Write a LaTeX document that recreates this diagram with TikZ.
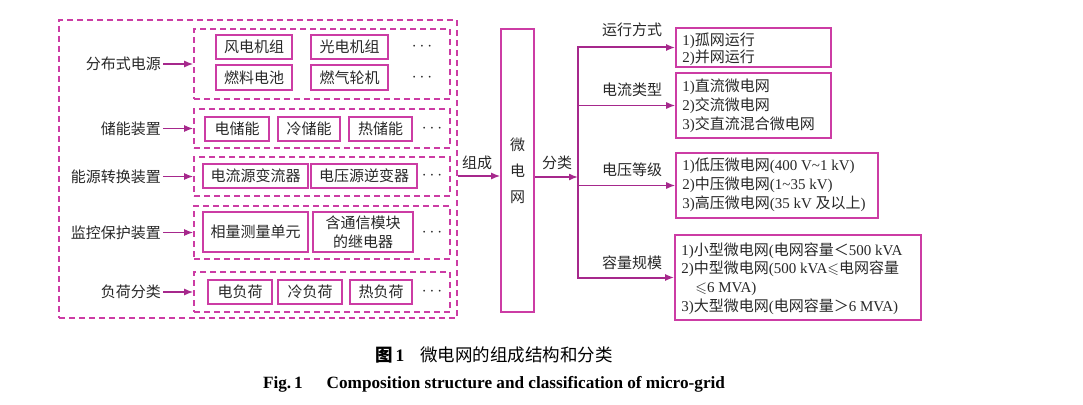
\documentclass[tikz,border=0pt]{standalone}
\usepackage{fontspec}
\usepackage{amssymb}
\setmainfont{Liberation Serif}
\newfontfamily\cjk{Noto Sans CJK SC}
\usetikzlibrary{arrows.meta}
\definecolor{mag}{RGB}{204,60,164}
\definecolor{arrc}{RGB}{166,40,140}
\definecolor{txtc}{RGB}{40,40,40}
\newcommand\en[1]{{\rmfamily #1}}
\begin{document}
\begin{tikzpicture}[x=1pt,y=-1pt,
  every node/.style={text=txtc},
  zh/.style={font=\cjk\fontsize{15}{19}\selectfont, inner sep=2pt},
  dots/.style={font=\fontsize{18}{19}\selectfont, inner sep=0pt},
  item/.style={zh, draw=mag, line width=1.6pt, inner sep=0pt, align=center},
  grp/.style={draw=mag, line width=1.6pt, dash pattern=on 6pt off 4pt, inner sep=0pt},
  arr/.style={draw=arrc, line width=1.5pt, -{Latex[length=9pt,width=7pt]}},
  tip/.style={{Latex[length=9pt,width=7pt]}-{Latex[length=9pt,width=7pt]}},
  ]
\fill[white] (0,0) rectangle (1083,404);
\useasboundingbox (0,0) rectangle (1083,404);

% outer composition box
\node[grp, minimum width=398pt, minimum height=298pt] (outer) at (258,169) {};

% groups
\node[grp, minimum width=256pt, minimum height=70pt] (g1) at (322,64) {};
\node[grp, minimum width=256pt, minimum height=39pt] (g2) at (322,128.5) {};
\node[grp, minimum width=256pt, minimum height=39pt] (g3) at (322,176.5) {};
\node[grp, minimum width=256pt, minimum height=53pt] (g4) at (322,232.5) {};
\node[grp, minimum width=256pt, minimum height=40pt] (g5) at (322,292) {};

% left labels
\node[zh, anchor=east] (l1) at (163,64) {分布式电源};
\node[zh, anchor=east] (l2) at (163,128.5) {储能装置};
\node[zh, anchor=east] (l3) at (163,176.5) {能源转换装置};
\node[zh, anchor=east] (l4) at (163,232.5) {监控保护装置};
\node[zh, anchor=east] (l5) at (163,292) {负荷分类};
\foreach \i in {1,...,5} {\draw[arr] (l\i.east) -- (l\i.east -| g\i.west);}

% group 1 items
\node[item, minimum width=76pt, minimum height=24pt] (a1) at (254,47) {风电机组};
\node[item, minimum width=77pt, minimum height=24pt] (a2) at (349.5,47) {光电机组};
\node[dots] (a3) at (422,47) {$\cdots$};
\node[item, minimum width=76pt, minimum height=25pt] (a4) at (254,77.5) {燃料电池};
\node[item, minimum width=77pt, minimum height=25pt] (a5) at (349.5,77.5) {燃气轮机};
\node[dots] (a6) at (422,77.5) {$\cdots$};
% group 2
\node[item, minimum width=64pt, minimum height=24pt] (b1) at (237,129) {电储能};
\node[item, minimum width=62pt, minimum height=24pt] (b2) at (309,129) {冷储能};
\node[item, minimum width=63pt, minimum height=24pt] (b3) at (380.5,129) {热储能};
\node[dots] (b4) at (432,129) {$\cdots$};
% group 3
\node[item, minimum width=105pt, minimum height=24pt] (c1) at (255.5,176) {电流源变流器};
\node[item, minimum width=106pt, minimum height=24pt] (c2) at (364,176) {电压源逆变器};
\node[dots] (c3) at (432,176) {$\cdots$};
% group 4
\node[item, minimum width=105pt, minimum height=40pt] (e1) at (255.5,232) {相量测量单元};
\node[item, minimum width=100pt, minimum height=40pt] (e2) at (363,232) {含通信模块\\的继电器};
\node[dots] (e3) at (432,233) {$\cdots$};
% group 5
\node[item, minimum width=64pt, minimum height=24pt] (f1) at (240,292) {电负荷};
\node[item, minimum width=64pt, minimum height=24pt] (f2) at (310,292) {冷负荷};
\node[item, minimum width=62pt, minimum height=24pt] (f3) at (381,292) {热负荷};
\node[dots] (f4) at (432,292) {$\cdots$};

% micro-grid box
\node[item, minimum width=33pt, minimum height=283pt, font=\cjk\fontsize{15}{26}\selectfont] (mg) at (517.5,170.5) {微\\电\\网};

\draw[arr] ([yshift=-7pt]outer.east) -- ([yshift=-7pt]outer.east -| mg.west);
\node[zh] (zc) at (477,163) {组成};

\coordinate (tx) at (578,177);
\draw[arr] (mg.east |- tx) -- (tx);
\node[zh] (fl) at (557,163) {分类};

% right boxes
\node[draw=mag, line width=1.6pt, minimum width=155pt, minimum height=39pt, inner sep=0pt] (bA) at (753.5,47.5) {};
\node[draw=mag, line width=1.6pt, minimum width=155pt, minimum height=65pt, inner sep=0pt] (bB) at (753.5,105.5) {};
\node[draw=mag, line width=1.6pt, minimum width=202pt, minimum height=65pt, inner sep=0pt] (bC) at (777,185.5) {};
\node[draw=mag, line width=1.6pt, minimum width=246pt, minimum height=85pt, inner sep=0pt] (bD) at (798,277.5) {};

\node[zh, anchor=west, align=left, font=\cjk\fontsize{15}{16.6}\selectfont] (tA) at ([xshift=5pt,yshift=-2pt]bA.west)
  {\en{1)}孤网运行\\\en{2)}并网运行};
\node[zh, anchor=west, align=left] (tB) at ([xshift=5pt]bB.west)
  {\en{1)}直流微电网\\\en{2)}交流微电网\\\en{3)}交直流混合微电网};
\node[zh, anchor=west, align=left] (tC) at ([xshift=5pt,yshift=1pt]bC.west)
  {\en{1)}低压微电网\en{(400 V\textasciitilde1 kV)}\\\en{2)}中压微电网\en{(1\textasciitilde35 kV)}\\\en{3)}高压微电网\en{(35 kV }及以上\en{)}};
\node[zh, anchor=west, align=left, font=\cjk\fontsize{15}{18.7}\selectfont] (tD) at ([xshift=5pt,yshift=-1pt]bD.west)
  {\en{1)}小型微电网\en{(}电网容量＜\en{500 kVA}\\\en{2)}中型微电网\en{(500 kVA}$\leqslant$电网容量\\\hspace*{14pt}$\leqslant$\en{6 MVA)}\\\en{3)}大型微电网\en{(}电网容量＞\en{6 MVA)}};

% trunk and branches
\draw[arr, tip, line width=2pt] (bA.west) -- (tx |- bA.west) -- (tx |- bD.west) -- (bD.west);
\draw[arr, line width=1.2pt] (tx |- bB.west) -- (bB.west);
\draw[arr, line width=1.2pt] (tx |- bC.west) -- (bC.west);

\node[zh] (nA) at (632,30) {运行方式};
\node[zh] (nB) at (632,90) {电流类型};
\node[zh] (nC) at (632,170) {电压等级};
\node[zh] (nD) at (632,263) {容量规模};

% captions
\node[font=\cjk\fontsize{17.5}{20}\selectfont, text=black, inner sep=0pt] (cap1) at (494,355)
  {{\bfseries 图\,\en{1}}\hspace{16pt}微电网的组成结构和分类};
\node[font=\bfseries\fontsize{17.2}{19}\selectfont, text=black, inner sep=0pt] (cap2) at (494,384)
  {Fig.\,1\hspace{24pt}Composition structure and classification of micro-grid};
\end{tikzpicture}
\end{document}
